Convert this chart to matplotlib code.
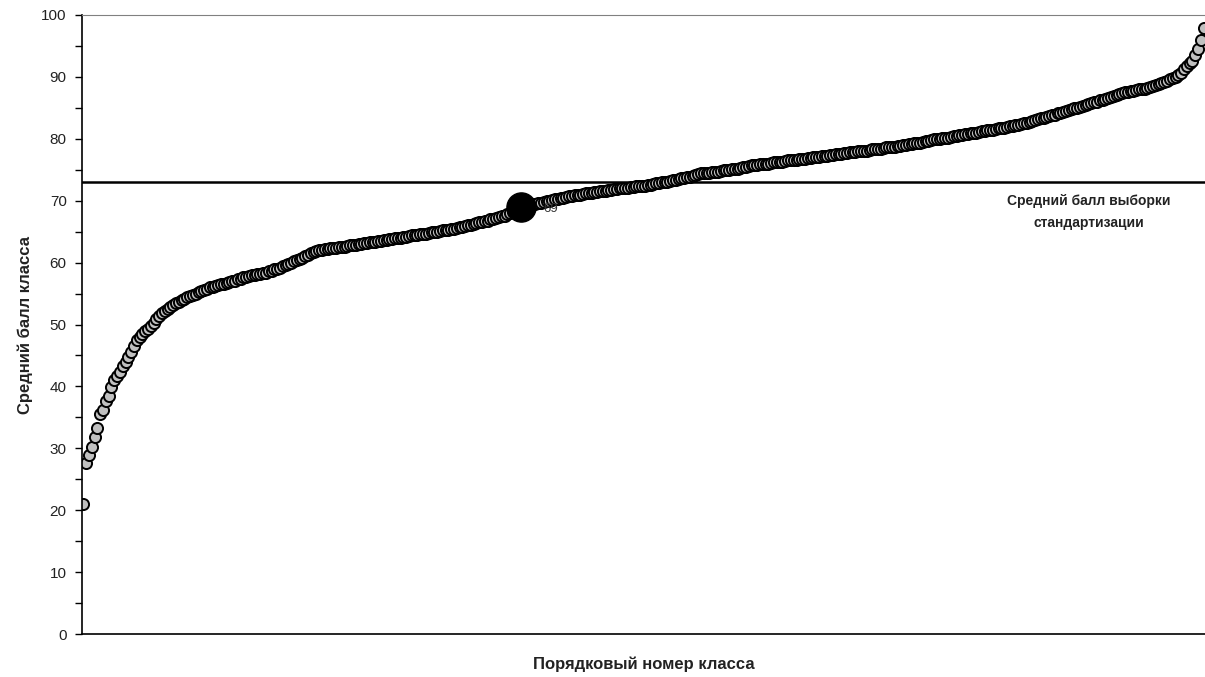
import numpy as np
import matplotlib.pyplot as plt

plt.rcParams['font.family'] = ['Liberation Sans', 'DejaVu Sans']

# средние баллы классов (отсортированы)
class_scores = [
    21.0, 27.6, 28.9, 30.2, 31.8, 33.2, 35.6, 36.2, 37.6, 38.4,
    39.9, 41.0, 41.7, 42.4, 43.3, 43.9, 44.7, 45.6, 46.6, 47.5,
    48.0, 48.4, 48.9, 49.3, 49.8, 50.3, 50.9, 51.4, 51.8, 52.2,
    52.5, 52.8, 53.1, 53.4, 53.7, 54.0, 54.2, 54.4, 54.6, 54.8,
    55.0, 55.2, 55.4, 55.6, 55.8, 56.0, 56.1, 56.2, 56.4, 56.5,
    56.6, 56.7, 56.9, 57.0, 57.1, 57.3, 57.4, 57.6, 57.7, 57.9,
    58.0, 58.0, 58.1, 58.2, 58.3, 58.4, 58.6, 58.7, 58.9, 59.0,
    59.2, 59.4, 59.6, 59.8, 60.0, 60.2, 60.4, 60.6, 60.8, 61.0,
    61.3, 61.5, 61.7, 61.8, 62.0, 62.1, 62.2, 62.2, 62.3, 62.3,
    62.4, 62.5, 62.5, 62.6, 62.7, 62.8, 62.8, 62.9, 63.0, 63.0,
    63.1, 63.2, 63.3, 63.3, 63.4, 63.5, 63.5, 63.6, 63.7, 63.8,
    63.8, 63.9, 64.0, 64.0, 64.1, 64.2, 64.3, 64.4, 64.4, 64.5,
    64.6, 64.7, 64.7, 64.8, 64.9, 64.9, 65.0, 65.1, 65.2, 65.2,
    65.3, 65.4, 65.5, 65.6, 65.7, 65.8, 65.9, 66.0, 66.1, 66.3,
    66.4, 66.5, 66.6, 66.7, 66.8, 67.0, 67.1, 67.2, 67.3, 67.5,
    67.6, 67.8, 68.0, 68.2, 68.4, 68.6, 69.0, 69.1, 69.2, 69.3,
    69.4, 69.5, 69.6, 69.7, 69.8, 69.9, 70.0, 70.1, 70.2, 70.3,
    70.4, 70.5, 70.6, 70.7, 70.8, 70.9, 70.9, 71.0, 71.1, 71.2,
    71.2, 71.3, 71.4, 71.4, 71.5, 71.6, 71.6, 71.7, 71.8, 71.9,
    71.9, 72.0, 72.0, 72.1, 72.1, 72.2, 72.2, 72.3, 72.3, 72.4,
    72.4, 72.5, 72.6, 72.7, 72.8, 72.9, 73.0, 73.0, 73.1, 73.2,
    73.3, 73.4, 73.5, 73.6, 73.7, 73.8, 73.9, 74.0, 74.2, 74.3,
    74.4, 74.4, 74.5, 74.5, 74.6, 74.7, 74.7, 74.8, 74.9, 74.9,
    75.0, 75.1, 75.2, 75.2, 75.3, 75.4, 75.5, 75.6, 75.7, 75.7,
    75.8, 75.9, 75.9, 76.0, 76.0, 76.1, 76.2, 76.2, 76.3, 76.3,
    76.4, 76.5, 76.5, 76.6, 76.6, 76.7, 76.8, 76.8, 76.9, 76.9,
    77.0, 77.1, 77.1, 77.2, 77.2, 77.3, 77.4, 77.4, 77.5, 77.5,
    77.6, 77.7, 77.7, 77.8, 77.8, 77.9, 78.0, 78.0, 78.1, 78.1,
    78.2, 78.3, 78.3, 78.4, 78.4, 78.5, 78.6, 78.6, 78.7, 78.7,
    78.8, 78.9, 79.0, 79.0, 79.1, 79.2, 79.3, 79.4, 79.4, 79.5,
    79.6, 79.7, 79.8, 79.9, 79.9, 80.0, 80.1, 80.2, 80.2, 80.3,
    80.4, 80.5, 80.6, 80.6, 80.7, 80.8, 80.9, 81.0, 81.0, 81.1,
    81.2, 81.3, 81.4, 81.4, 81.5, 81.6, 81.7, 81.8, 81.8, 81.9,
    82.0, 82.1, 82.2, 82.3, 82.4, 82.5, 82.6, 82.7, 82.9, 83.0,
    83.2, 83.3, 83.4, 83.6, 83.7, 83.8, 83.9, 84.1, 84.2, 84.4,
    84.5, 84.6, 84.8, 84.9, 85.0, 85.2, 85.3, 85.5, 85.6, 85.8,
    85.9, 86.0, 86.2, 86.3, 86.5, 86.6, 86.8, 86.9, 87.1, 87.2,
    87.4, 87.5, 87.6, 87.7, 87.8, 87.9, 88.0, 88.0, 88.1, 88.2,
    88.3, 88.5, 88.7, 88.9, 89.0, 89.2, 89.4, 89.6, 89.8, 90.0,
    90.3, 90.7, 91.2, 91.8, 92.2, 92.6, 93.5, 94.5, 96.0, 97.9,
]
# выделенный класс и средний балл выборки стандартизации
highlight_idx = 156
highlight_label = '69'
sample_mean = 73

n = len(class_scores)
x = np.arange(n)

fig = plt.figure(figsize=(12.05, 6.77), dpi=100)
ax = fig.add_axes([82 / 1205, 1 - 634 / 677, 1123 / 1205, (634 - 15) / 677])

ax.axhline(sample_mean, color='black', lw=1.8, zorder=1)
ax.plot(x, class_scores, 'o', ms=8, mfc='#c0c0c0', mec='black', mew=1.4, zorder=2)
ax.plot(x[highlight_idx], class_scores[highlight_idx], 'o', ms=21, color='black', zorder=3)
ax.text(x[highlight_idx] + 8, class_scores[highlight_idx] - 0.3, highlight_label,
        fontsize=9.5, color='#333333', va='center', ha='left', zorder=4)

ax.text(358, sample_mean - 1.9, 'Средний балл выборки\nстандартизации',
        fontsize=10, fontweight='bold', ha='center', va='top', linespacing=1.75,
        color='#222222')

ax.set_xlim(-0.5, n - 0.5)
ax.set_ylim(0, 100)
ax.set_yticks(np.arange(0, 101, 10))
ax.set_yticks(np.arange(5, 100, 10), minor=True)
ax.set_xticks([])
ax.tick_params(axis='y', which='both', direction='out', length=5, width=1,
               labelsize=11, pad=6, labelcolor='#222222')

ax.spines['right'].set_visible(False)
ax.spines['top'].set_color('#808080')
ax.spines['left'].set_linewidth(1.2)
ax.spines['bottom'].set_linewidth(1.2)

ax.set_xlabel('Порядковый номер класса', fontsize=12, fontweight='bold',
              labelpad=16, color='#222222')
ax.set_ylabel('Средний балл класса', fontsize=12, fontweight='bold',
              labelpad=6, color='#222222')

fig.savefig('out.png', dpi=100)
